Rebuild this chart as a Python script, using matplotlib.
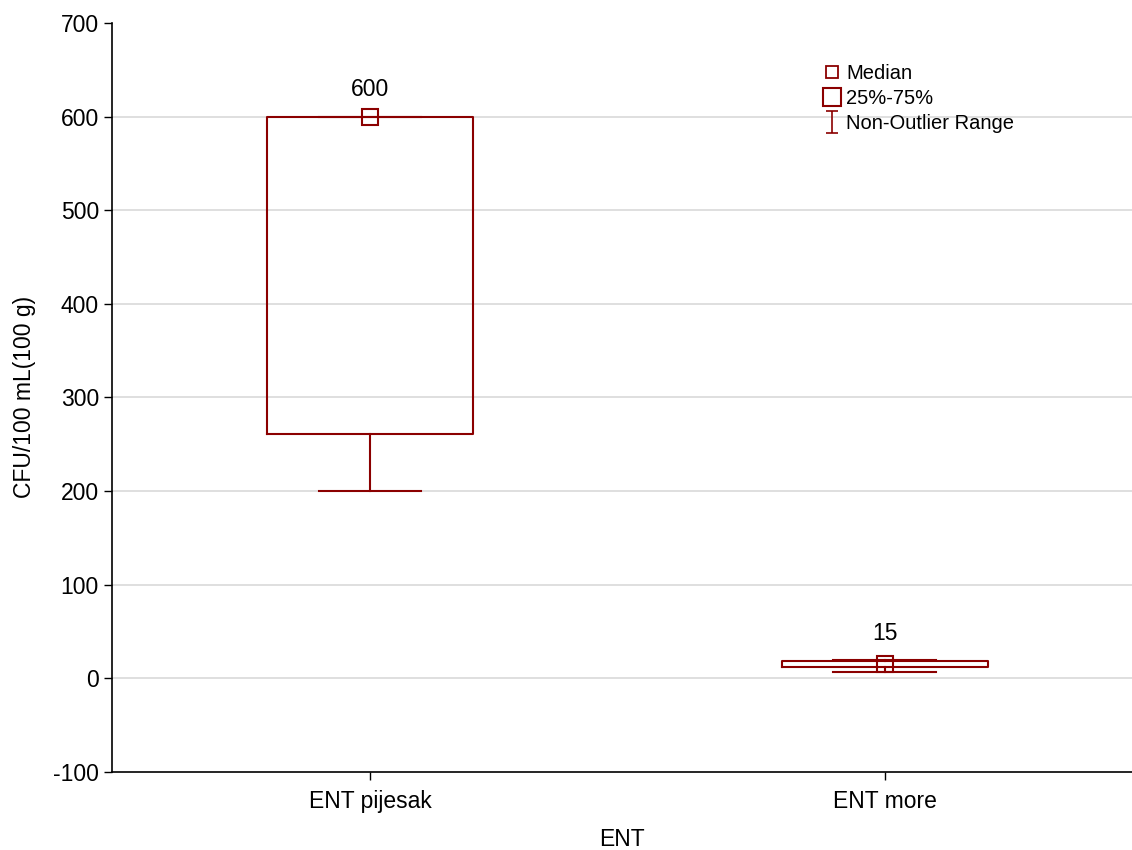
import matplotlib
matplotlib.use("Agg")
import matplotlib.pyplot as plt
from matplotlib.lines import Line2D
from matplotlib.path import Path

plt.rcParams["font.family"] = ["Liberation Sans", "DejaVu Sans"]
plt.rcParams["axes.unicode_minus"] = False

# data
categories = ["ENT pijesak", "ENT more"]
medians = [600, 15]
q1 = [261, 12]
q3 = [600, 18]
whisker_lo = [200, 7]
whisker_hi = [600, 19]

RED = "#8B0000"
FS = 16.5

fig = plt.figure(figsize=(11.32, 8.5), dpi=100)
ax = fig.add_axes([0.099, 0.092, 0.901, 0.881])

positions = [1, 2]
stats = []
for lab, med, lo, hi, wl, wh in zip(categories, medians, q1, q3, whisker_lo, whisker_hi):
    stats.append({"label": lab, "med": med, "q1": lo, "q3": hi,
                  "whislo": wl, "whishi": wh, "fliers": []})

ax.bxp(stats, positions=positions, widths=0.4, capwidths=0.2,
       showfliers=False, patch_artist=False,
       boxprops=dict(color=RED, linewidth=1.5),
       whiskerprops=dict(color=RED, linewidth=1.5),
       capprops=dict(color=RED, linewidth=1.5),
       medianprops=dict(color=RED, linewidth=0, alpha=0),
       zorder=3)

ax.plot(positions, medians, linestyle="none", marker="s", markersize=11,
        markerfacecolor="none", markeredgecolor=RED, markeredgewidth=1.5, zorder=4)

for x, med, top in zip(positions, medians, whisker_hi):
    ax.annotate(f"{med}", xy=(x, top), xytext=(0, 11), textcoords="offset points",
                ha="center", va="bottom", fontsize=FS)

ax.set_xlim(0.499, 2.48)
ax.set_ylim(-100, 700)
ax.set_yticks(range(-100, 701, 100))
ax.set_xticks(positions)
ax.set_xticklabels(categories)
ax.tick_params(axis="both", direction="out", labelsize=FS, length=6, width=1)
ax.tick_params(axis="x", pad=7)
ax.grid(axis="y", color="#d9d9d9", linewidth=1.2, zorder=0)
ax.set_axisbelow(True)
gl = ax.yaxis.get_gridlines()
gl[0].set_visible(False)
gl[-1].set_visible(False)
for s in ["top", "right"]:
    ax.spines[s].set_visible(False)
ax.spines["left"].set_linewidth(1.2)
ax.spines["bottom"].set_linewidth(1.2)

ax.set_xlabel("ENT", fontsize=FS, labelpad=11)
ax.set_ylabel("CFU/100 mL(100 g)", fontsize=FS, labelpad=12)

# legend
range_path = Path([(-0.5, -1), (0.5, -1), (0, -1), (0, 1), (-0.5, 1), (0.5, 1)],
                  [Path.MOVETO, Path.LINETO, Path.MOVETO, Path.LINETO, Path.MOVETO, Path.LINETO])
handles = [
    Line2D([], [], linestyle="none", marker="s", markersize=9, markerfacecolor="none",
           markeredgecolor=RED, markeredgewidth=1.3),
    Line2D([], [], linestyle="none", marker="s", markersize=13, markerfacecolor="none",
           markeredgecolor=RED, markeredgewidth=1.5),
    Line2D([], [], linestyle="none", marker=range_path, markersize=16, markerfacecolor="none",
           markeredgecolor=RED, markeredgewidth=1.2),
]
ax.legend(handles, ["Median", "25%-75%", "Non-Outlier Range"], loc="upper left",
          bbox_to_anchor=(0.688, 0.958), frameon=False, fontsize=14.5,
          handlelength=0.8, handletextpad=0.3, labelspacing=0.28, borderpad=0)

fig.savefig("out.png", dpi=100)
